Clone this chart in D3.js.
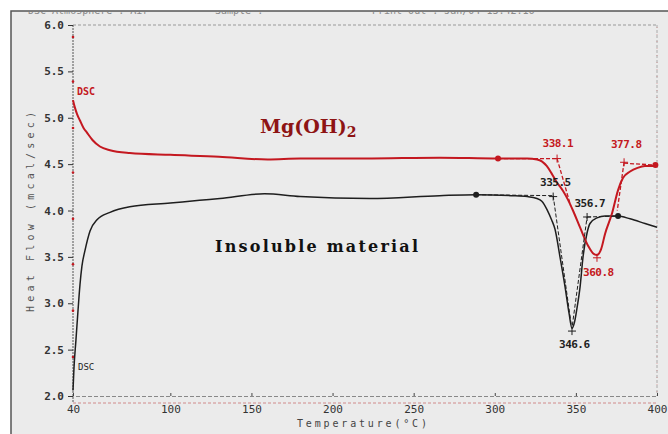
<!DOCTYPE html>
<html>
<head>
<meta charset="utf-8">
<script src="https://cdn.jsdelivr.net/npm/d3@7"></script>
<style>
  body { margin: 0; background: #fff; }
  text { font-family: "DejaVu Sans Mono", monospace; }
</style>
</head>
<body>
<svg id="chart"></svg>
<script>
// Mg(OH)2 curve (red): temperature in C, heat flow in mcal/sec
const redTemps = [40, 41, 42.5, 44.3, 46.5, 48.6, 52, 56.6, 62.8, 75, 100, 130, 160, 180, 220, 266, 302, 320, 326, 329, 332, 335, 338, 342.1, 345, 348.2, 352.5, 357.5, 360.5, 363, 365.5, 368, 372.3, 376, 379, 383.4, 388, 392.6, 400];
const redFlow  = [5.19, 5.12, 5.04, 4.97, 4.89, 4.84, 4.76, 4.69, 4.65, 4.62, 4.60, 4.58, 4.55, 4.56, 4.56, 4.57, 4.56, 4.56, 4.55, 4.53, 4.48, 4.40, 4.31, 4.21, 4.12, 4.00, 3.82, 3.62, 3.54, 3.52, 3.58, 3.75, 3.97, 4.22, 4.35, 4.42, 4.46, 4.48, 4.48];

// Insoluble material curve (black)
const blackTemps = [40, 40.6, 41.8, 43, 44.3, 45.5, 47.4, 50.5, 54.8, 62.8, 75, 100, 118, 130.6, 158, 180, 223, 266, 288.5, 310, 320, 326, 329, 332.2, 335, 337.1, 340.2, 343.3, 345.8, 347.6, 349.2, 350.7, 352.6, 354.4, 356.9, 358.7, 363, 368, 376, 383.4, 392.6, 400];
const blackFlow  = [2.06, 2.30, 2.60, 2.90, 3.20, 3.40, 3.57, 3.78, 3.90, 3.98, 4.04, 4.08, 4.11, 4.13, 4.18, 4.15, 4.13, 4.16, 4.17, 4.16, 4.15, 4.13, 4.10, 4.01, 3.90, 3.80, 3.50, 3.18, 2.89, 2.73, 2.80, 2.95, 3.18, 3.50, 3.76, 3.86, 3.92, 3.94, 3.94, 3.91, 3.86, 3.82];

// analysis markers
const redDots = [[302, 4.56], [399, 4.49]];
const redPlus = [[338.4, 4.56], [379.7, 4.52], [363, 3.49]];
const blackDots = [[288.5, 4.17], [376, 3.94]];
const blackPlus = [[336, 4.15], [356.9, 3.93], [347.6, 2.70]];
const redBaselines = [[[302, 4.56], [338.4, 4.56]], [[379.7, 4.51], [399, 4.49]]];
const redTangents = [[[338.4, 4.56], [346.8, 4.05]], [[379.7, 4.52], [375.5, 4.0]]];
const blackBaselines = [[[288.5, 4.17], [336, 4.16]], [[356.9, 3.93], [376, 3.94]]];
const blackTangents = [[[336, 4.16], [347.2, 2.76]], [[347.8, 2.76], [356.9, 3.93]]];

// peak / onset labels
const peakLabels = [
  { text: "338.1", t: 339, v: 4.73, color: "red" },
  { text: "377.8", t: 381.2, v: 4.71, color: "red" },
  { text: "360.8", t: 364, v: 3.33, color: "red" },
  { text: "335.5", t: 337.5, v: 4.31, color: "black" },
  { text: "356.7", t: 358.7, v: 4.08, color: "black" },
  { text: "346.6", t: 349.2, v: 2.56, color: "black" }
];

const yTicks = [2.0, 2.5, 3.0, 3.5, 4.0, 4.5, 5.0, 5.5, 6.0];
const xTicks = [40, 100, 150, 200, 250, 300, 350, 400];
const redAxisMarks = [5.87, 5.39, 4.89, 4.41, 3.91, 3.42, 2.92, 2.42];

const width = 668, height = 434;
const redColor = "#c41820", darkRed = "#8e1414", ink = "#1e1e1e";

const svg = d3.select("#chart")
    .attr("width", width)
    .attr("height", height);

// scanned paper background + frame
svg.append("rect").attr("x", 11).attr("y", 11).attr("width", width - 11).attr("height", height - 11)
    .attr("fill", "#ebebeb");
svg.append("path").attr("d", `M11,${height} V11 H${width}`)
    .attr("fill", "none").attr("stroke", "#555").attr("stroke-width", 1.5);

svg.append("clipPath").attr("id", "paper")
  .append("rect").attr("x", 12).attr("y", 12).attr("width", width).attr("height", height);

// faint header from the instrument printout, cut by the scan
const header = svg.append("g").attr("clip-path", "url(#paper)")
    .attr("fill", "#8a8a8a").style("font-size", "10px");
header.append("text").attr("x", 28).attr("y", 14).text("DSC  Atmosphere : Air");
header.append("text").attr("x", 215).attr("y", 14).text("Sample :");
header.append("text").attr("x", 372).attr("y", 14).text("Print Out : Jan/04 13:42:16");

const x = d3.scaleLinear().domain([40, 400]).range([73, 657]);
const y = d3.scaleLinear().domain([2, 6]).range([396, 25]);

// plot frame (dotted)
svg.append("line").attr("x1", x(40)).attr("x2", x(400)).attr("y1", y(6)).attr("y2", y(6))
    .attr("stroke", "#999").attr("stroke-dasharray", "3,2");
svg.append("line").attr("x1", x(400)).attr("x2", x(400)).attr("y1", y(6)).attr("y2", y(2))
    .attr("stroke", "#aaa").attr("stroke-dasharray", "3,2");
svg.append("line").attr("x1", x(400)).attr("x2", x(400)).attr("y1", y(6) + 2).attr("y2", y(2))
    .attr("stroke", "#d08080").attr("stroke-width", 0.6).attr("stroke-dasharray", "1,6");
svg.append("line").attr("x1", x(40)).attr("x2", x(400)).attr("y1", y(2) + 7).attr("y2", y(2) + 7)
    .attr("stroke", "#d08a8a").attr("stroke-dasharray", "3,2");
svg.append("line").attr("x1", x(40)).attr("x2", x(40)).attr("y1", y(6)).attr("y2", y(2) + 7)
    .attr("stroke", "#555").attr("stroke-dasharray", "2,1");

// y axis
const yAxis = svg.append("g")
    .attr("transform", `translate(${x(40)},0)`)
    .call(d3.axisLeft(y).tickValues(yTicks).tickFormat(d3.format(".1f")).tickSize(5).tickPadding(4));
yAxis.select(".domain").remove();
yAxis.selectAll("line").attr("stroke", "#333");
yAxis.selectAll("text").attr("fill", "#333").style("font-size", "11px")
    .style("font-family", "DejaVu Sans Mono, monospace").style("font-weight", "bold");

// red tick marks on the y axis
svg.selectAll(".redmark").data(redAxisMarks).enter().append("circle")
    .attr("class", "redmark")
    .attr("cx", x(40)).attr("cy", d => y(d)).attr("r", 1.3).attr("fill", redColor);

// x axis
const xAxis = svg.append("g")
    .attr("transform", `translate(0,${y(2)})`)
    .call(d3.axisBottom(x).tickValues(xTicks).tickSize(-3).tickPadding(9));
xAxis.select(".domain").attr("stroke", "#888").attr("stroke-dasharray", "4,2");
xAxis.selectAll("line").attr("stroke", "#444");
xAxis.selectAll("text").attr("fill", "#333").style("font-size", "11px")
    .style("font-family", "DejaVu Sans Mono, monospace");

svg.append("text").attr("x", 297).attr("y", 427)
    .attr("textLength", 130).attr("lengthAdjust", "spacing")
    .attr("fill", "#444").style("font-size", "10px")
    .text("Temperature(°C)");

svg.append("text")
    .attr("transform", "translate(34,212) rotate(-90)")
    .attr("text-anchor", "middle")
    .attr("textLength", 200).attr("lengthAdjust", "spacing")
    .attr("fill", "#555").style("font-size", "10px")
    .text("Heat Flow (mcal/sec)");

// curves
const line = d3.line()
    .x(d => x(d[0]))
    .y(d => y(d[1]))
    .curve(d3.curveMonotoneX);

svg.append("path")
    .datum(blackTemps.map((t, i) => [t, blackFlow[i]]))
    .attr("d", line)
    .attr("fill", "none").attr("stroke", ink).attr("stroke-width", 1.5);

svg.append("path")
    .datum(redTemps.map((t, i) => [t, redFlow[i]]))
    .attr("d", line)
    .attr("fill", "none").attr("stroke", redColor).attr("stroke-width", 2);

// baselines and tangents (dashed)
const seg = d3.line().x(d => x(d[0])).y(d => y(d[1]));
function dashed(segs, color, w) {
    segs.forEach(s => {
        svg.append("path").attr("d", seg(s))
            .attr("fill", "none").attr("stroke", color).attr("stroke-width", w)
            .attr("stroke-dasharray", "4,2");
    });
}
dashed(blackBaselines, ink, 1);
dashed(blackTangents, ink, 1);
dashed(redBaselines, redColor, 1.3);
dashed(redTangents, redColor, 1.3);

// markers
function dots(pts, color) {
    svg.selectAll(null).data(pts).enter().append("circle")
        .attr("cx", d => x(d[0])).attr("cy", d => y(d[1])).attr("r", 3).attr("fill", color);
}
function plus(pts, color) {
    pts.forEach(p => {
        const cx = x(p[0]), cy = y(p[1]);
        svg.append("path").attr("d", `M${cx - 4},${cy}H${cx + 4}M${cx},${cy - 4}V${cy + 4}`)
            .attr("stroke", color).attr("stroke-width", 1);
    });
}
dots(blackDots, ink);
dots(redDots, redColor);
plus(blackPlus, ink);
plus(redPlus, redColor);

// temperature labels
svg.selectAll(".peak").data(peakLabels).enter().append("text")
    .attr("class", "peak")
    .attr("x", d => x(d.t)).attr("y", d => y(d.v))
    .attr("dy", "0.35em").attr("text-anchor", "middle")
    .attr("textLength", 31).attr("lengthAdjust", "spacing")
    .attr("fill", d => d.color === "red" ? redColor : ink)
    .style("font-size", "11px").style("font-weight", "bold")
    .text(d => d.text);

// DSC tags
svg.append("text").attr("x", 77).attr("y", 95).attr("fill", redColor)
    .style("font-size", "10px").style("font-weight", "bold").text("DSC");
svg.append("text").attr("x", 78).attr("y", 370).attr("fill", ink)
    .style("font-size", "9px").text("DSC");

// series names
const mg = svg.append("text").attr("x", 260).attr("y", 133)
    .attr("fill", darkRed)
    .style("font-family", "DejaVu Serif, serif").style("font-weight", "bold").style("font-size", "19px");
mg.append("tspan").text("Mg(OH)");
mg.append("tspan").attr("dy", 4).style("font-size", "14px").text("2");

svg.append("text").attr("x", 215).attr("y", 252)
    .attr("textLength", 203).attr("lengthAdjust", "spacing")
    .attr("fill", "#111")
    .style("font-family", "DejaVu Serif, serif").style("font-weight", "bold").style("font-size", "16px")
    .text("Insoluble material");
</script>
</body>
</html>
